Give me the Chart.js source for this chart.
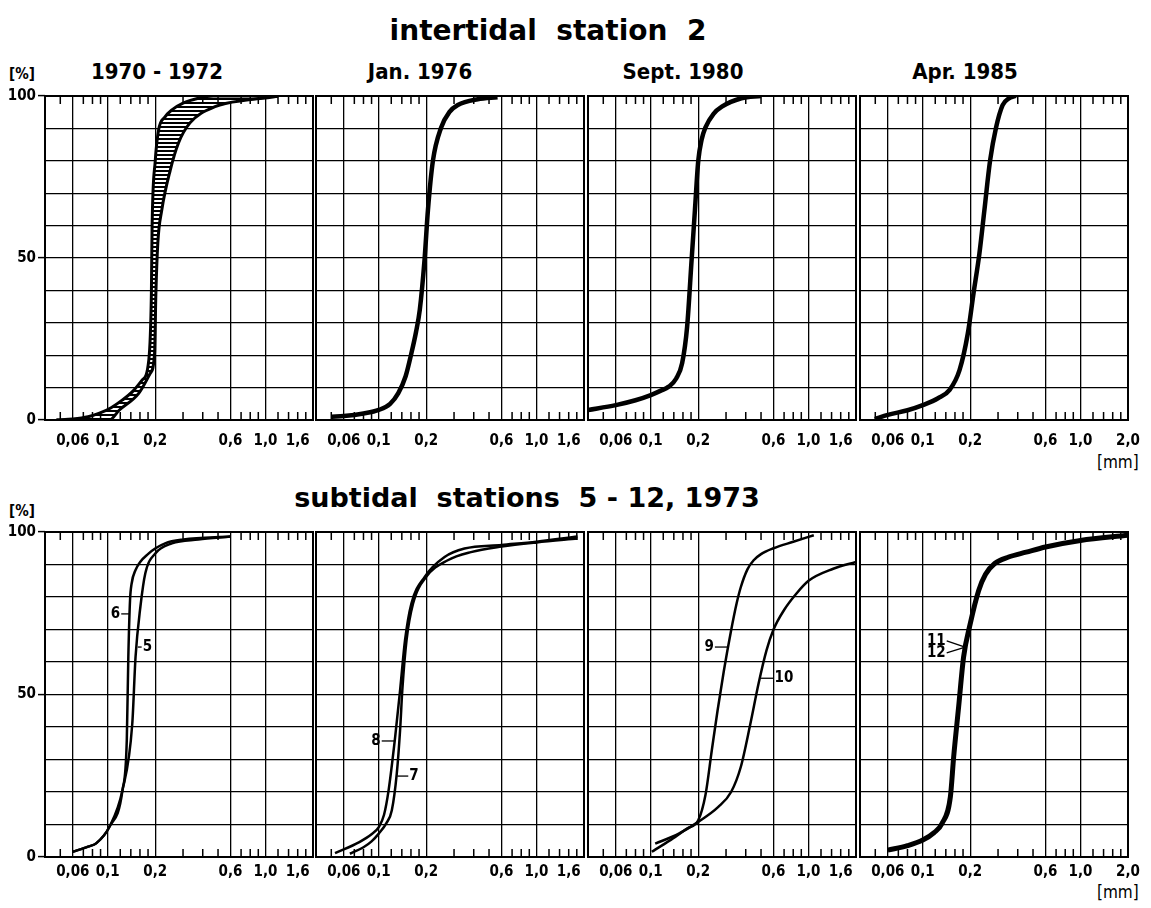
<!DOCTYPE html>
<html>
<head>
<meta charset="utf-8">
<script src="https://cdn.jsdelivr.net/npm/chart.js@4.4.1/dist/chart.umd.min.js"></script>
<style>
  body { margin: 0; background: #fff; width: 1151px; height: 908px; position: relative; overflow: hidden; }
  canvas { position: absolute; }
  .txt { position: absolute; white-space: pre; line-height: 1; color: #000; font-weight: bold; font-family: 'DejaVu Sans Condensed', 'DejaVu Sans', sans-serif; }
  .big { font-family: 'DejaVu Sans', sans-serif; font-size: 28px; transform: translateX(-50%); }
  .sub { font-size: 22px; transform: translateX(-50%); }
  .unit { font-size: 15px; }
  .mm { font-size: 17px; font-weight: normal; }
</style>
</head>
<body>
<div class="txt big" style="left:548px; top:17px;">intertidal  station  2</div>
<div class="txt big" style="left:527px; top:484px; font-size:27px;">subtidal  stations  5 - 12, 1973</div>
<div class="txt sub" style="left:157px; top:61px;">1970 - 1972</div>
<div class="txt sub" style="left:420px; top:61px;">Jan. 1976</div>
<div class="txt sub" style="left:683px; top:61px;">Sept. 1980</div>
<div class="txt sub" style="left:965px; top:61px;">Apr. 1985</div>
<div class="txt unit" style="left:9px; top:67px;">[%]</div>
<div class="txt unit" style="left:9px; top:504px;">[%]</div>
<div class="txt mm" style="left:1097px; top:454px;">[mm]</div>
<div class="txt mm" style="left:1097px; top:884px;">[mm]</div>

<script>
// axis ticks (grain size in mm, percent)
const gridSizes = [0.06, 0.1, 0.2, 0.6, 1.0];
const minorSizes = [0.05, 0.07, 0.08, 0.09, 0.12, 0.14, 0.16, 0.18, 0.3, 0.4, 0.5, 0.7, 0.8, 0.9, 1.2, 1.4, 1.6, 1.8];
const labelSizes = [0.06, 0.1, 0.2, 0.6, 1.0, 1.6];
const labelText = ['0,06', '0,1', '0,2', '0,6', '1,0', '1,6'];
const labelSizesLast = [0.06, 0.1, 0.2, 0.6, 1.0, 2.0];
const labelTextLast = ['0,06', '0,1', '0,2', '0,6', '1,0', '2,0'];
const pctLabels = [0, 50, 100];

// intertidal station 2, 1970-1972 (range of curves)
const fine7072Size = [0.0473, 0.06, 0.075, 0.0886, 0.105, 0.124, 0.145, 0.165, 0.182, 0.189, 0.191, 0.2, 0.21, 0.23, 0.255, 0.3, 0.375, 0.466, 1.2];
const fine7072Pct = [0, 0.3, 1, 2.1, 3.8, 6.2, 9, 12.3, 18.5, 39, 59.7, 80, 89.5, 93.5, 95.7, 97.8, 99.3, 100, 100];
const coarse7072Size = [0.0473, 0.1025, 0.118, 0.1575, 0.186, 0.198, 0.2018, 0.2076, 0.22, 0.2486, 0.2807, 0.332, 0.4787, 0.78, 1.16, 1.2];
const coarse7072Pct = [0, 0, 3, 8.3, 14.4, 20.6, 39, 54.6, 64.8, 77, 85.5, 91.7, 96.7, 98.8, 99.8, 100];

// Jan. 1976
const jan76Size = [0.0504, 0.06, 0.08, 0.1, 0.118, 0.133, 0.148, 0.161, 0.172, 0.182, 0.195, 0.205, 0.2204, 0.2486, 0.28, 0.317, 0.424, 0.566];
const jan76Pct = [1, 1.2, 2, 3.1, 5, 8.3, 13.5, 20.6, 27, 34, 49.4, 64.8, 80, 90.3, 95, 97.2, 99, 99.6];

// Sept. 1980
const sep80Size = [0.04, 0.06, 0.08, 0.1, 0.115, 0.13, 0.145, 0.158, 0.17, 0.1815, 0.1905, 0.2, 0.21, 0.2222, 0.25, 0.2822, 0.3753, 0.5];
const sep80Pct = [3.1, 4.6, 6.1, 7.7, 9, 10.3, 12.8, 17.5, 28.8, 49.4, 64.8, 80, 86.5, 90.3, 94.5, 96.7, 99.3, 100];

// Apr. 1985
const apr85Size = [0.0497, 0.06, 0.08, 0.1, 0.125, 0.148, 0.171, 0.193, 0.2096, 0.2286, 0.2459, 0.267, 0.2915, 0.3208, 0.35, 0.389];
const apr85Pct = [0.3, 1.6, 3, 4.6, 6.7, 9.3, 15.4, 26.7, 39, 51.4, 64.8, 80, 90.3, 97.2, 99.2, 100];

// subtidal stations 1973
const st5Size = [0.06, 0.075, 0.0844, 0.1025, 0.124, 0.143, 0.15, 0.161, 0.173, 0.2, 0.255, 0.375, 0.6];
const st5Pct = [1.6, 3.2, 4.2, 9.3, 20.6, 41, 61.6, 77, 87.3, 93.4, 96.5, 97.7, 98.6];
const st6Size = [0.06, 0.075, 0.0844, 0.1025, 0.124, 0.132, 0.135, 0.1384, 0.1415, 0.15, 0.182, 0.231, 0.302, 0.6];
const st6Pct = [1.6, 3.2, 4.2, 9.3, 20.6, 36, 61.6, 79, 84, 88.3, 93.4, 96.5, 97.7, 98.6];
const st7Size = [0.0656, 0.08, 0.09, 0.1, 0.112, 0.121, 0.13, 0.1365, 0.141, 0.15, 0.165, 0.2, 0.2738, 0.384, 0.6, 1.0, 1.82];
const st7Pct = [1, 3, 4.8, 7.2, 10.5, 14.4, 25.6, 39, 51.3, 66.7, 78, 86.2, 91.3, 93.8, 95.5, 96.8, 98];
const st8Size = [0.0528, 0.0753, 0.09, 0.1, 0.108, 0.1154, 0.127, 0.1365, 0.1467, 0.161, 0.1955, 0.2613, 0.3495, 0.6, 1.0, 1.82];
const st8Pct = [1.2, 4.6, 7, 9.2, 13, 20.5, 36.9, 51.3, 66.7, 78, 86.2, 92.3, 94.9, 96, 97, 98.6];
const st9Size = [0.1015, 0.12, 0.143, 0.17, 0.2, 0.222, 0.244, 0.265, 0.29, 0.323, 0.35, 0.372, 0.41, 0.449, 0.5, 0.6, 0.8, 1.08];
const st9Pct = [1.6, 3.8, 6.2, 8.8, 11.3, 19, 33, 45, 57, 69.7, 78, 83, 88.5, 91.3, 93.2, 95, 97, 99];
const st10Size = [0.1067, 0.1505, 0.2, 0.268, 0.323, 0.372, 0.428, 0.482, 0.541, 0.6, 0.7, 0.836, 1.0, 1.434, 2.0];
const st10Pct = [4.1, 7.2, 10.8, 15.4, 20, 27.7, 41, 53.3, 63.5, 70, 76, 81, 85, 88.7, 90.8];
const st1112Size = [0.06, 0.08, 0.1, 0.118, 0.1324, 0.1496, 0.157, 0.1688, 0.1815, 0.2, 0.2262, 0.25, 0.2858, 0.35, 0.4524, 0.6, 1.0, 2.0];
const st1112Pct = [2.1, 3.5, 5.2, 7.5, 10.3, 18.5, 30.8, 46.2, 61.6, 71.8, 82, 87, 90.3, 92.3, 93.8, 95.4, 97.4, 99];

// curve labels with leader lines (mm, %)
const notes56 = [
  { text: '6', x1: 0.1217, y1: 74.8, x2: 0.1384, y2: 74.8, at: 'start' },
  { text: '5', x1: 0.155, y1: 64.6, x2: 0.164, y2: 64.6, at: 'end' }
];
const notes78 = [
  { text: '8', x1: 0.1044, y1: 35.7, x2: 0.1258, y2: 35.7, at: 'start' },
  { text: '7', x1: 0.131, y1: 24.9, x2: 0.1538, y2: 24.9, at: 'end' }
];
const notes910 = [
  { text: '9', x1: 0.255, y1: 64.6, x2: 0.305, y2: 64.6, at: 'start' },
  { text: '10', x1: 0.5, y1: 55, x2: 0.6, y2: 55, at: 'end' }
];
const notes1112 = [
  { text: '11', x1: 0.1418, y1: 66.5, x2: 0.1815, y2: 64.7, at: 'start' },
  { text: '12', x1: 0.1418, y1: 62.8, x2: 0.1815, y2: 64.4, at: 'start' }
];

const PAD_L = 50, PAD_R = 26, PAD_T = 14, PAD_B = 60, W = 268;
const lefts = [45, 316, 588, 860];
const FONT = "'DejaVu Sans Condensed', 'DejaVu Sans', sans-serif";

function pts(sizes, pcts) {
  return sizes.map((s, i) => ({ x: s, y: pcts[i] }));
}

function curve(sizes, pcts, width, extra) {
  return Object.assign({
    data: pts(sizes, pcts),
    borderColor: '#000',
    borderWidth: width,
    pointRadius: 0,
    cubicInterpolationMode: 'monotone',
    fill: false
  }, extra || {});
}

function hatch() {
  const c = document.createElement('canvas');
  c.width = 8; c.height = 4;
  const g = c.getContext('2d');
  g.fillStyle = '#fff';
  g.fillRect(0, 0, 8, 4);
  g.fillStyle = '#000';
  g.fillRect(0, 0, 8, 2);
  return g.createPattern(c, 'repeat');
}

const frameTicks = {
  id: 'frameTicks',
  afterDatasetsDraw(chart) {
    const { ctx, chartArea: a } = chart;
    const x = chart.scales.x;
    ctx.save();
    ctx.strokeStyle = '#000';
    ctx.lineWidth = 1.5;
    ctx.beginPath();
    minorSizes.forEach(v => {
      const px = x.getPixelForValue(v);
      if (px <= a.left + 1 || px >= a.right - 1) return;
      ctx.moveTo(px, a.top); ctx.lineTo(px, a.top + 8);
      ctx.moveTo(px, a.bottom); ctx.lineTo(px, a.bottom - 8);
    });
    ctx.stroke();
    ctx.lineWidth = 2;
    ctx.strokeRect(a.left, a.top, a.right - a.left, a.bottom - a.top);
    ctx.restore();
  }
};

const notes = {
  id: 'notes',
  afterDatasetsDraw(chart, args, opts) {
    const items = opts.items || [];
    const { ctx } = chart;
    const x = chart.scales.x, y = chart.scales.y;
    ctx.save();
    ctx.strokeStyle = '#000';
    ctx.fillStyle = '#000';
    ctx.lineWidth = 1.3;
    ctx.font = 'bold 15px ' + FONT;
    ctx.textBaseline = 'middle';
    items.forEach(n => {
      const x1 = x.getPixelForValue(n.x1), y1 = y.getPixelForValue(n.y1);
      const x2 = x.getPixelForValue(n.x2), y2 = y.getPixelForValue(n.y2);
      ctx.beginPath();
      ctx.moveTo(x1, y1);
      ctx.lineTo(x2, y2);
      ctx.stroke();
      if (n.at === 'start') {
        ctx.textAlign = 'right';
        ctx.fillText(n.text, x1 - 1, y1);
      } else {
        ctx.textAlign = 'left';
        ctx.fillText(n.text, x2 + 1, y2);
      }
    });
    ctx.restore();
  }
};

function panel(col, top, height, datasets, opt) {
  const cv = document.createElement('canvas');
  const cw = PAD_L + W + PAD_R, ch = PAD_T + height + PAD_B;
  cv.width = cw; cv.height = ch;
  cv.style.left = (lefts[col] - PAD_L) + 'px';
  cv.style.top = (top - PAD_T) + 'px';
  cv.style.width = cw + 'px';
  cv.style.height = ch + 'px';
  document.body.appendChild(cv);

  const last = col === 3;
  const labSizes = last ? labelSizesLast : labelSizes;
  const labText = last ? labelTextLast : labelText;
  const tickVals = last ? minorSizes.concat(gridSizes, [2.0]) : minorSizes.concat(gridSizes);
  tickVals.sort((a, b) => a - b);
  const first = col === 0;

  return new Chart(cv, {
    type: 'line',
    data: { datasets: datasets },
    options: {
      responsive: false,
      animation: false,
      events: [],
      layout: { padding: { left: 0, right: PAD_R, top: PAD_T, bottom: 0 } },
      plugins: {
        legend: { display: false },
        tooltip: { enabled: false },
        filler: { drawTime: 'beforeDatasetsDraw' },
        notes: { items: opt.notes || [] }
      },
      scales: {
        x: {
          type: 'logarithmic',
          min: 0.04,
          max: 2.0,
          afterBuildTicks: s => { s.ticks = tickVals.map(v => ({ value: v })); },
          afterFit: s => { s.height = PAD_B; },
          grid: {
            color: c => (c.tick && gridSizes.includes(c.tick.value)) ? '#000' : 'rgba(0,0,0,0)',
            lineWidth: 1.3,
            drawTicks: false
          },
          border: { display: false },
          ticks: {
            autoSkip: false,
            maxRotation: 0,
            minRotation: 0,
            padding: opt.labelPad,
            color: '#000',
            font: { family: FONT, size: 15, weight: 'bold' },
            callback: v => {
              const i = labSizes.indexOf(v);
              return i >= 0 ? labText[i] : '';
            }
          }
        },
        y: {
          min: 0,
          max: 100,
          afterFit: s => { s.width = PAD_L; },
          grid: {
            color: '#000',
            lineWidth: 1.2,
            drawTicks: first,
            tickLength: 7,
            tickColor: c => (c.tick && pctLabels.includes(c.tick.value)) ? '#000' : 'rgba(0,0,0,0)',
            tickWidth: 1.5
          },
          border: { display: false },
          ticks: {
            display: first,
            stepSize: 10,
            padding: 2,
            color: '#000',
            font: { family: FONT, size: 15, weight: 'bold' },
            callback: v => pctLabels.includes(v) ? String(v) : ''
          }
        }
      }
    },
    plugins: [frameTicks, notes]
  });
}

const upperTop = 96, upperH = 324, lowerTop = 532, lowerH = 325;

panel(0, upperTop, upperH, [
  curve(fine7072Size, fine7072Pct, 3, { label: 'finest 1970-1972', fill: { target: 1 }, backgroundColor: hatch() }),
  curve(coarse7072Size, coarse7072Pct, 3, { label: 'coarsest 1970-1972' })
], { labelPad: 12 });
panel(1, upperTop, upperH, [curve(jan76Size, jan76Pct, 4.5, { label: 'Jan. 1976' })], { labelPad: 12 });
panel(2, upperTop, upperH, [curve(sep80Size, sep80Pct, 4.5, { label: 'Sept. 1980' })], { labelPad: 12 });
panel(3, upperTop, upperH, [curve(apr85Size, apr85Pct, 4.5, { label: 'Apr. 1985' })], { labelPad: 12 });

panel(0, lowerTop, lowerH, [
  curve(st5Size, st5Pct, 2.5, { label: '5' }),
  curve(st6Size, st6Pct, 2.5, { label: '6' })
], { labelPad: 6, notes: notes56 });
panel(1, lowerTop, lowerH, [
  curve(st7Size, st7Pct, 2.5, { label: '7' }),
  curve(st8Size, st8Pct, 2.5, { label: '8' })
], { labelPad: 6, notes: notes78 });
panel(2, lowerTop, lowerH, [
  curve(st9Size, st9Pct, 2.5, { label: '9' }),
  curve(st10Size, st10Pct, 2.5, { label: '10' })
], { labelPad: 6, notes: notes910 });
panel(3, lowerTop, lowerH, [
  curve(st1112Size, st1112Pct, 5, { label: '11, 12' })
], { labelPad: 6, notes: notes1112 });
</script>
</body>
</html>
